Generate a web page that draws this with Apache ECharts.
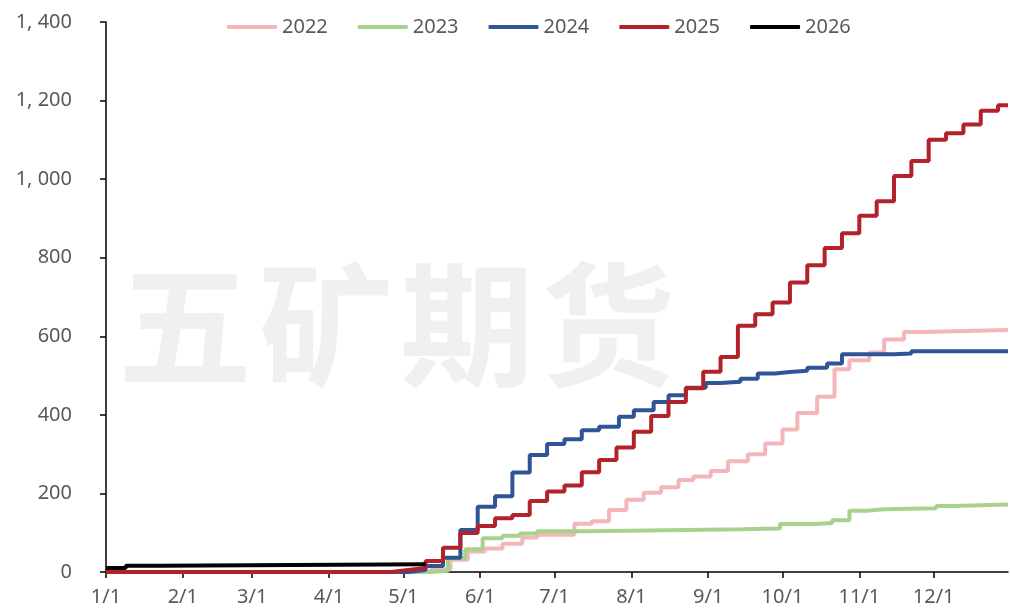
<!DOCTYPE html>
<html><head><meta charset="utf-8">
<script src="https://cdn.jsdelivr.net/npm/echarts@6/dist/echarts.min.js"></script>
<style>html,body{margin:0;padding:0;background:#fff}#c{width:1010px;height:608px}</style>
</head><body><div id="c"></div>
<script>
// calendar (x categories)
const monthDays = [31,28,31,30,31,30,31,31,30,31,30,31];
const yTicks = [0,200,400,600,800,1000,1200,1400];
const seriesNames = ['2022','2023','2024','2025','2026'];
const watermarkChars = ['五','矿','期','货'];

// step change points (date, cumulative value)
const d2022 = ['5/12','5/20','5/27','6/3','6/10','6/18','6/24','7/9','7/16','7/23','7/30','8/6','8/13','8/20','8/26','9/2','9/9','9/17','9/24','10/1','10/7','10/15','10/22','10/28','11/5','11/11','11/19','11/26'];
const v2022 = [7,31,52,60,72,88,95,123,129,158,184,202,216,234,243,257,282,300,327,363,405,446,516,539,559,592,611,616];

const d2023 = ['5/12','5/19','5/26','6/2','6/10','6/17','6/24','7/15','9/15','9/30','10/14','10/21','10/28','11/4','11/11','12/2','12/9'];
const v2023 = [3,35,58,86,92,98,104,109,111,122,125,132,156,160,162,168,172];

const d2024 = ['5/3','5/10','5/17','5/24','5/31','6/7','6/14','6/21','6/28','7/5','7/12','7/19','7/27','8/2','8/10','8/16','8/23','8/31','9/6','9/14','9/21','9/28','10/4','10/11','10/19','10/25','11/15','11/22'];
const v2024 = [5,15,36,107,166,193,253,298,326,338,361,370,395,412,433,450,469,481,484,492,505,509,512,520,531,554,556,562];

const d2025 = ['4/26','5/3','5/10','5/17','5/24','5/31','6/7','6/14','6/21','6/28','7/5','7/12','7/19','7/26','8/2','8/9','8/16','8/23','8/30','9/6','9/13','9/20','9/27','10/4','10/11','10/18','10/25','11/1','11/8','11/15','11/22','11/29','12/6','12/13','12/20','12/27'];
const v2025 = [5,10,28,62,99,117,137,145,181,205,220,254,285,317,357,397,433,468,510,547,627,656,686,737,781,825,862,907,944,1008,1046,1100,1117,1139,1174,1188];

const d2026 = ['1/1','1/9','1/23','5/10'];
const v2026 = [10,16,20,20];

const colors = ['#F4B6B8','#A9D18E','#2F5597','#B2222A','#000000'];

const categories = [];
monthDays.forEach((n, m) => { for (let d = 1; d <= n; d++) categories.push((m+1) + '/' + d); });

function build(dates, vals, extend) {
  const out = [];
  if (dates[0] !== '1/1') out.push(['1/1', 0]);
  dates.forEach((d, i) => out.push([d, vals[i]]));
  if (extend) out.push(['12/31', vals[vals.length-1]]);
  return out;
}
const allData = [build(d2022,v2022,true), build(d2023,v2023,true), build(d2024,v2024,true), build(d2025,v2025,true), build(d2026,v2026,false)];

const font = 'Noto Sans';
const chart = echarts.init(document.getElementById('c'), null, {renderer:'canvas'});
chart.setOption({
  animation: false,
  backgroundColor: '#fff',
  graphic: watermarkChars.map((ch, i) => ({
    type: 'text', left: 118 + i * 141, top: 258, z: 0, silent: true,
    style: { text: ch, font: 'bold 134px "Noto Sans CJK SC"', fill: '#f0f0f0' }
  })),
  legend: {
    left: 222, top: 12, itemWidth: 50, itemHeight: 4, itemGap: 30, icon: 'roundRect',
    data: seriesNames,
    textStyle: { color: '#595959', fontSize: 20, fontFamily: font }
  },
  grid: { left: 106, right: 2, top: 22, bottom: 36, containLabel: false },
  xAxis: {
    type: 'category', data: categories, boundaryGap: false,
    axisLine: { lineStyle: { color: '#000', width: 1.5 } },
    axisTick: { length: 6, interval: (i, v) => /\/1$/.test(v), lineStyle: { color: '#000', width: 1.5 } },
    axisLabel: { interval: (i, v) => /\/1$/.test(v), color: '#595959', fontSize: 20, fontFamily: font, margin: 15 },
    splitLine: { show: false }
  },
  yAxis: {
    type: 'value', min: 0, max: 1400, interval: 200,
    axisLine: { show: true, lineStyle: { color: '#000', width: 1.5 } },
    axisTick: { show: true, length: 6, lineStyle: { color: '#000', width: 1.5 } },
    axisLabel: { color: '#595959', fontSize: 20, fontFamily: font, margin: 34,
      formatter: v => v >= 1000 ? Math.floor(v/1000) + ', ' + String(v % 1000).padStart(3,'0') : String(v) },
    splitLine: { show: false }
  },
  series: seriesNames.map((n, i) => ({
    name: n, type: 'line', step: 'end', data: allData[i], symbol: 'none', z: 2 + i,
    lineStyle: { color: colors[i], width: 4 }, itemStyle: { color: colors[i] }
  }))
});
</script></body></html>
